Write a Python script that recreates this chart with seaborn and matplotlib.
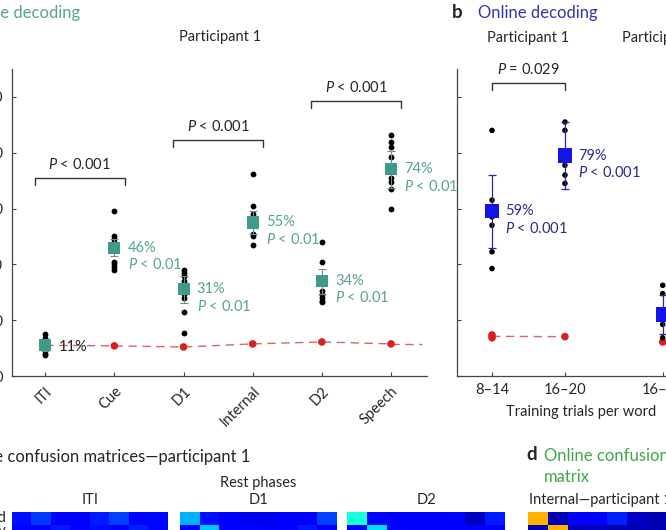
import numpy as np
import pandas as pd
import seaborn as sns
import matplotlib.pyplot as plt

W, H = 666, 530

# panel a - offline decoding, participant 1
phases = ["ITI", "Cue", "D1", "Internal", "D2", "Speech"]
iti_acc = [15, 13.5, 12, 11, 10, 9, 8, 7.5]
cue_acc = [59, 50, 49, 48, 41, 40, 39, 38]
d1_acc = [38, 37, 36, 34, 29.5, 28, 23, 15.5]
internal_acc = [72.5, 61, 58, 56.5, 51, 50, 47]
d2_acc = [48, 41, 30.5, 29, 28, 27, 26.5]
speech_acc = [86.5, 84, 82, 78.5, 71, 69.5, 67, 60]
offline_mean = [11, 46, 31, 55, 34, 74]
offline_err = [2, 3, 5, 4, 4.5, 6.5]
offline_chance = [11, 10.8, 10.4, 11.5, 12.2, 11.5]
offline_pairs = [("ITI", "Cue"), ("D1", "Internal"), ("D2", "Speech")]
offline_pvals = ["$P$ < 0.001", "$P$ < 0.001", "$P$ < 0.001"]
offline_bracket_y = [71, 84.5, 98.5]

# panel b - online decoding
online_groups = ["8–14", "16–20", "16–20"]
online_participant = ["Participant 1", "Participant 1", "Participant 2"]
p1_8_14_acc = [88, 63, 57, 54, 44.5, 38.5]
p1_16_20_acc = [91, 88, 75.5, 72, 69]
p2_16_20_acc = [32.5, 29.5, 18.5, 13.7]
online_mean = [59, 79, 22]
online_err = [13, 12, 7]
online_chance = [[13.7, 14.7], [14.1], [12.2]]
online_pval = "$P$ = 0.029"

# panel c/d - confusion matrices (only the top rows are visible)
words = ["Battlefield", "Cowboy"]
iti_cm = [[0.14, 0.18, 0.12, 0.12, 0.15, 0.19, 0.13, 0.13],
          [0.13, 0.12, 0.15, 0.12, 0.14, 0.12, 0.16, 0.13]]
d1_cm = [[0.30, 0.14, 0.12, 0.10, 0.10, 0.12, 0.12, 0.19],
         [0.12, 0.32, 0.12, 0.13, 0.12, 0.12, 0.15, 0.12]]
d2_cm = [[0.38, 0.13, 0.12, 0.12, 0.12, 0.13, 0.06, 0.15],
         [0.12, 0.34, 0.13, 0.12, 0.12, 0.12, 0.12, 0.12]]
internal_cm = [[0.72, 0.05, 0.12, 0.12, 0.16, 0.06, 0.05, 0.05],
               [0.05, 0.72, 0.05, 0.06, 0.05, 0.05, 0.05, 0.05]]

TEAL = "#3e9b8b"
TEAL_TXT = "#56a496"
BLUE = "#1414e8"
BLUE_TXT = "#2b2b8c"
RED = "#d91f1f"
RED_LINE = "#e06262"
GREEN_TXT = "#3fa84c"
FS = 10.5
FS_TITLE = 12

sns.set_style("ticks")
plt.rcParams["font.family"] = ["Lato", "DejaVu Sans"]
plt.rcParams["mathtext.fontset"] = "custom"
plt.rcParams["mathtext.it"] = "Lato:italic"
plt.rcParams["mathtext.rm"] = "Lato"
plt.rcParams["font.size"] = FS

fig = plt.figure(figsize=(W / 100, H / 100), dpi=100)


def box(l, t, r, b):
    return [l / W, 1 - b / H, (r - l) / W, (b - t) / H]


def ftext(x, y, s, **kw):
    kw.setdefault("va", "center")
    fig.text(x / W, 1 - y / H, s, **kw)


def style_axis(ax):
    sns.despine(ax=ax)
    for sp in ["left", "bottom"]:
        ax.spines[sp].set_color("#444444")
        ax.spines[sp].set_linewidth(0.9)
    ax.tick_params(direction="in", length=3, width=0.8, color="#444444")
    ax.set_ylim(0, 110)
    ax.set_yticks([0, 20, 40, 60, 80, 100])


def bracket(ax, x0, x1, y, text, pad):
    ax.plot([x0 - pad, x0 - pad, x1 + pad, x1 + pad], [y - 2.5, y, y, y - 2.5],
            color="#333333", lw=1, clip_on=False)
    ax.text((x0 + x1) / 2, y + 2.2, text, ha="center", va="bottom", fontsize=FS)


# ---- panel a
rows = []
for ph, vals in zip(phases, [iti_acc, cue_acc, d1_acc, internal_acc, d2_acc, speech_acc]):
    rows += [(ph, v) for v in vals]
df_a = pd.DataFrame(rows, columns=["phase", "acc"])

ax = fig.add_axes(box(12, 69, 427, 376))
style_axis(ax)
xa = np.arange(len(phases))
sns.lineplot(x=xa, y=offline_chance, color=RED_LINE, lw=1, dashes=(6, 4), ax=ax, zorder=1)
ax.plot([xa[-1], xa[-1] + 0.45], [offline_chance[-1]] * 2, color=RED_LINE, lw=1,
        dashes=(6, 4), zorder=1)
sns.scatterplot(x=xa, y=offline_chance, color=RED, s=30, edgecolor="none", ax=ax, zorder=2)
sns.stripplot(data=df_a, x="phase", y="acc", order=phases, jitter=False, color="black",
              size=4.2, ax=ax, zorder=3)
ax.errorbar(xa, offline_mean, yerr=offline_err, fmt="none", ecolor="#6f8f8a", elinewidth=0.8,
            capsize=3, capthick=0.8, zorder=4)
sns.scatterplot(x=xa, y=offline_mean, marker="s", color=TEAL, s=75, edgecolor="none", ax=ax,
                zorder=5)
for i, (m, ph) in enumerate(zip(offline_mean, phases)):
    if ph == "ITI":
        ax.annotate(f"{m}%", (i, m), xytext=(10, -1), textcoords="offset points", va="center",
                    fontsize=FS, color="#222222", zorder=6)
    else:
        ax.annotate(f"{m}%", (i, m), xytext=(9.5, 0), textcoords="offset points", va="center",
                    fontsize=FS, color=TEAL_TXT, annotation_clip=False)
        ax.annotate("$P$ < 0.01", (i, m), xytext=(9.5, -12), textcoords="offset points",
                    va="center", fontsize=FS, color=TEAL_TXT, annotation_clip=False)
for (a, b), p, y in zip(offline_pairs, offline_pvals, offline_bracket_y):
    bracket(ax, phases.index(a), phases.index(b), y, p, 0.15)
ax.set_xlim(-0.48, 5.52)
ax.set_xticks(xa)
ax.set_xticklabels(phases, rotation=45, ha="right", rotation_mode="anchor", fontsize=FS)
ax.tick_params(axis="x", pad=6)
ax.tick_params(axis="y", labelsize=FS, pad=6.5)
ax.set_xlabel("")
ax.set_ylabel("")

# ---- panel b
pos_b = [0, 1, 2.34]
rows = []
for g, vals in zip(range(3), [p1_8_14_acc, p1_16_20_acc, p2_16_20_acc]):
    rows += [(pos_b[g], v) for v in vals]
df_b = pd.DataFrame(rows, columns=["pos", "acc"])
chance_rows = [(pos_b[g], v) for g, vals in enumerate(online_chance) for v in vals]
df_cb = pd.DataFrame(chance_rows, columns=["pos", "acc"])

bx = fig.add_axes(box(457, 69, 705, 376))
style_axis(bx)
p1_chance = [np.mean(online_chance[0]), np.mean(online_chance[1])]
sns.lineplot(x=pos_b[:2], y=p1_chance, color=RED_LINE, lw=1, dashes=(6, 4), ax=bx, zorder=1)
sns.scatterplot(data=df_cb, x="pos", y="acc", color=RED, s=30, edgecolor="none", ax=bx, zorder=2)
sns.scatterplot(data=df_b, x="pos", y="acc", color="black", s=16, edgecolor="none", ax=bx, zorder=3)
bx.errorbar(pos_b, online_mean, yerr=online_err, fmt="none", ecolor=BLUE_TXT, elinewidth=0.9,
            capsize=3, capthick=0.9, zorder=4)
sns.scatterplot(x=pos_b, y=online_mean, marker="s", color=BLUE, s=105, edgecolor="none", ax=bx,
                zorder=5)
for x, m in zip(pos_b, online_mean):
    bx.annotate(f"{m}%", (x, m), xytext=(9.5, 0), textcoords="offset points", va="center",
                fontsize=FS, color=BLUE_TXT)
    bx.annotate("$P$ < 0.001", (x, m), xytext=(9.5, -12.5), textcoords="offset points",
                va="center", fontsize=FS, color=BLUE_TXT)
bracket(bx, pos_b[0], pos_b[1], 105, online_pval, 0.0)
bx.set_xlim(-0.48, 2.92)
bx.set_xticks(pos_b)
bx.set_xticklabels(online_groups, fontsize=FS)
bx.set_yticklabels([])
bx.tick_params(axis="x", pad=5)
bx.set_xlabel("Training trials per word", fontsize=FS, labelpad=6)
bx.set_ylabel("")

# ---- titles
ftext(80, 13, "Offline decoding", ha="right", fontsize=FS_TITLE, color=TEAL_TXT)
ftext(220, 37, "Participant 1", ha="center", fontsize=FS)
ftext(452, 13, "b", ha="left", fontsize=13.5, fontweight="bold")
ftext(478, 13, "Online decoding", ha="left", fontsize=FS_TITLE, color="#3535a8")
ftext(528, 38, online_participant[0], ha="center", fontsize=FS)
ftext(622, 38, online_participant[2], ha="left", fontsize=FS)

# ---- confusion matrices
ftext(250, 457, "Offline confusion matrices—participant 1", ha="right", fontsize=FS_TITLE)
ftext(258, 483, "Rest phases", ha="center", fontsize=FS)
ftext(526, 455, "d", ha="left", fontsize=13.5, fontweight="bold")
ftext(544, 456, "Online confusion", ha="left", fontsize=FS_TITLE, color=GREEN_TXT)
ftext(544, 477, "matrix", ha="left", fontsize=FS_TITLE, color=GREEN_TXT)

cms = [("ITI", iti_cm, 12, 168), ("D1", d1_cm, 180, 337), ("D2", d2_cm, 347, 505),
       ("Internal—participant 1", internal_cm, 528, 686)]
for k, (title, cm, l, r) in enumerate(cms):
    hx = fig.add_axes(box(l, 512, r, 538))
    sns.heatmap(np.array(cm), ax=hx, cmap="jet", vmin=0, vmax=1, cbar=False,
                xticklabels=False, yticklabels=words if k == 0 else False)
    if k == 0:
        hx.tick_params(axis="y", length=0, labelsize=FS, pad=4, rotation=0)
    else:
        hx.set_yticks([0.5])
        hx.tick_params(axis="y", direction="in", length=3, color="white", labelleft=False)
    if k < 3:
        ftext((l + r) / 2, 500, title, ha="center", fontsize=FS)
    else:
        ftext(l + 1, 500, title, ha="left", fontsize=FS)

fig.savefig("out.png", dpi=100)
